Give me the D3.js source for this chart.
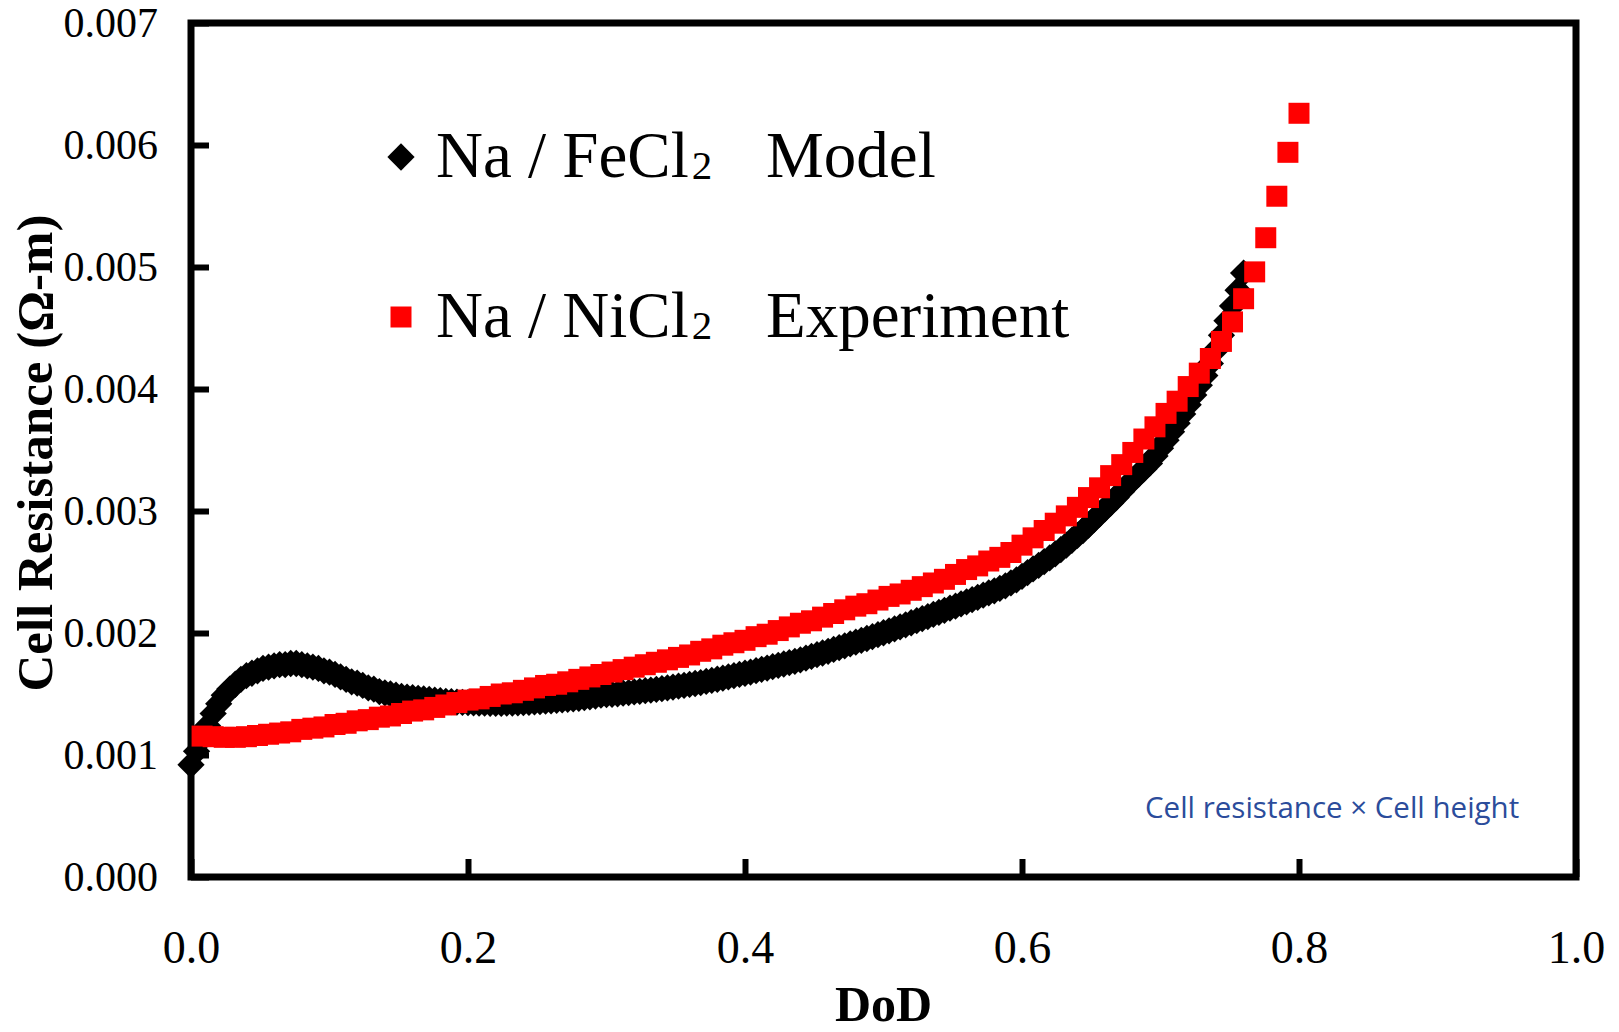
<!DOCTYPE html>
<html>
<head>
<meta charset="utf-8">
<script src="https://cdn.jsdelivr.net/npm/d3@7"></script>
<style>
	body { margin: 0; background: #fff; }
	svg { display: block; }
</style>
</head>
<body>
<div id="chart"></div>
<script>
// Model curve (Na / FeCl2): DoD and cell resistance (ohm-m)
const modelDoD = [
	0, .004, .008, .012, .016, .02, .024, .028, .032, .036, .04, .044, .048, .052, .056, .06, .064, .068, .072, .076,
	.08, .084, .088, .092, .096, .1, .104, .108, .112, .116, .12, .124, .128, .132, .136, .14, .144, .148, .152, .156,
	.16, .164, .168, .172, .176, .18, .184, .188, .192, .196, .2, .204, .208, .212, .216, .22, .224, .228, .232, .236,
	.24, .244, .248, .252, .256, .26, .264, .268, .272, .276, .28, .284, .288, .292, .296, .3, .304, .308, .312, .316,
	.32, .324, .328, .332, .336, .34, .344, .348, .352, .356, .36, .364, .368, .372, .376, .38, .384, .388, .392, .396,
	.4, .404, .408, .412, .416, .42, .424, .428, .432, .436, .44, .444, .448, .452, .456, .46, .464, .468, .472, .476,
	.48, .484, .488, .492, .496, .5, .504, .508, .512, .516, .52, .524, .528, .532, .536, .54, .544, .548, .552, .556,
	.56, .564, .568, .572, .576, .58, .584, .588, .592, .596, .6, .604, .608, .612, .616, .62, .624, .628, .632, .636,
	.64, .644, .648, .652, .656, .66, .664, .668, .672, .676, .68, .684, .688, .692, .696, .7, .704, .708, .712, .716,
	.72, .724, .728, .732, .736, .74, .744, .748, .752, .756, .76
];
const modelRes = [
	0.00092, 0.00103, 0.00113, 0.00124, 0.00134, 0.00142, 0.00149, 0.00154, 0.00158, 0.00162,
	0.00165, 0.00167, 0.00169, 0.00171, 0.00172, 0.00173, 0.00174, 0.00174, 0.00175, 0.00175,
	0.00174, 0.00173, 0.00172, 0.00171, 0.00169, 0.00168, 0.00166, 0.00164, 0.00162, 0.00160,
	0.00159, 0.00157, 0.00155, 0.00154, 0.00152, 0.00151, 0.00150, 0.00149, 0.00148, 0.001475,
	0.00147, 0.001465, 0.00146, 0.001455, 0.00145, 0.001445, 0.00144, 0.001437, 0.001434, 0.001432,
	0.00143, 0.001428, 0.001426, 0.001425, 0.001424, 0.001424, 0.001424, 0.001425, 0.001426, 0.001428,
	0.00143, 0.001432, 0.001435, 0.001438, 0.001441, 0.001444, 0.001448, 0.001452, 0.001456, 0.00146,
	0.001465, 0.00147, 0.001476, 0.001483, 0.00149, 0.001494, 0.001498, 0.001502, 0.001507, 0.001512,
	0.001517, 0.001522, 0.001527, 0.001532, 0.001538, 0.001544, 0.00155, 0.001557, 0.001564, 0.001571,
	0.001578, 0.001586, 0.001594, 0.001603, 0.001612, 0.001621, 0.00163, 0.00164, 0.00165, 0.00166,
	0.00167, 0.00168, 0.001691, 0.001702, 0.001713, 0.001724, 0.001735, 0.001746, 0.001757, 0.001768,
	0.00178, 0.001794, 0.001808, 0.001822, 0.001836, 0.00185, 0.001865, 0.00188, 0.001895, 0.00191,
	0.001925, 0.00194, 0.001955, 0.00197, 0.001986, 0.002002, 0.002018, 0.002034, 0.00205, 0.002067,
	0.002084, 0.002101, 0.002118, 0.002135, 0.002152, 0.002169, 0.002186, 0.002203, 0.00222, 0.002238,
	0.002256, 0.002274, 0.002292, 0.00231, 0.002328, 0.002346, 0.002365, 0.002387, 0.00241, 0.002435,
	0.002465, 0.002495, 0.002525, 0.002555, 0.002585, 0.002615, 0.002648, 0.002683, 0.00272, 0.00276,
	0.0028, 0.00284, 0.002885, 0.00293, 0.002975, 0.00302, 0.003065, 0.00311, 0.00316, 0.00321,
	0.003255, 0.0033, 0.003345, 0.00339, 0.00345, 0.003515, 0.00358, 0.00365, 0.00372, 0.003795,
	0.00387, 0.00395, 0.00403, 0.00411, 0.00421, 0.00432, 0.00444, 0.00456, 0.00468, 0.00481,
	0.00495
];

// Experiment (Na / NiCl2)
const expDoD = [
	.008, .016, .024, .032, .04, .048, .056, .064, .072, .08, .088, .096, .104, .112, .12, .128, .136, .144, .152, .16,
	.168, .176, .184, .192, .2, .208, .216, .224, .232, .24, .248, .256, .264, .272, .28, .288, .296, .304, .312, .32,
	.328, .336, .344, .352, .36, .368, .376, .384, .392, .4, .408, .416, .424, .432, .44, .448, .456, .464, .472, .48,
	.488, .496, .504, .512, .52, .528, .536, .544, .552, .56, .568, .576, .584, .592, .6, .608, .616, .624, .632, .64,
	.648, .656, .664, .672, .68, .688, .696, .704, .712, .72, .728, .736, .744, .752, .76, .768, .776, .784, .792, .8
];
const expRes = [
	0.001155, 0.00115, 0.001145, 0.001145, 0.00115, 0.00116, 0.00117, 0.00118, 0.00119, 0.00121,
	0.00122, 0.00123, 0.00125, 0.00126, 0.00128, 0.00129, 0.00131, 0.00132, 0.00134, 0.00136,
	0.00137, 0.00139, 0.00141, 0.00143, 0.00145, 0.00146, 0.00148, 0.0015, 0.00151, 0.00153,
	0.00155, 0.00157, 0.00158, 0.0016, 0.00162, 0.00164, 0.00166, 0.00168, 0.0017, 0.00172,
	0.00174, 0.00176, 0.00178, 0.0018, 0.00182, 0.00185, 0.00187, 0.0019, 0.00192, 0.00194,
	0.00197, 0.00199, 0.00202, 0.00205, 0.00208, 0.0021, 0.00213, 0.00216, 0.00219, 0.00222,
	0.00224, 0.00227, 0.0023, 0.00232, 0.00235, 0.00238, 0.00241, 0.00244, 0.00248, 0.00252,
	0.00255, 0.00259, 0.00262, 0.00266, 0.00272, 0.00278, 0.00284, 0.0029, 0.00296, 0.00303,
	0.00311, 0.00319, 0.00329, 0.00338, 0.00348, 0.00359, 0.00369, 0.0038, 0.0039, 0.00402,
	0.00413, 0.00425, 0.00439, 0.00455, 0.00474, 0.00496, 0.00524, 0.00558, 0.00594, 0.00626
];

const xTicks = [0, 0.2, 0.4, 0.6, 0.8, 1.0];
const yTicks = [0, 0.001, 0.002, 0.003, 0.004, 0.005, 0.006, 0.007];

const width = 1619, height = 1032;
const plot = {left: 191, right: 1576, top: 23, bottom: 877};
const serif = "'Liberation Serif', 'Times New Roman', serif";

let svg = d3.select("#chart").append("svg")
	.attr("width", width).attr("height", height);

let scaleX = d3.scaleLinear([0, 1], [plot.left, plot.right]),
	scaleY = d3.scaleLinear([0, 0.007], [plot.bottom, plot.top]);

// Frame
svg.append("rect")
	.attr("x", plot.left).attr("y", plot.top)
	.attr("width", plot.right - plot.left).attr("height", plot.bottom - plot.top)
	.attr("fill", "none").attr("stroke", "#000").attr("stroke-width", 7);

// Axes (ticks point inwards)
let axisX = svg.append("g")
	.attr("transform", `translate(0, ${plot.bottom})`)
	.call(d3.axisBottom(scaleX).tickValues(xTicks).tickFormat(d3.format(".1f"))
		.tickSize(-18).tickPadding(53));
let axisY = svg.append("g")
	.attr("transform", `translate(${plot.left}, 0)`)
	.call(d3.axisLeft(scaleY).tickValues(yTicks).tickFormat(d3.format(".3f"))
		.tickSize(-18).tickPadding(33));

[axisX, axisY].forEach(ax => {
	ax.select(".domain").remove();
	ax.attr("font-family", serif);
	ax.selectAll(".tick line").attr("stroke", "#000").attr("stroke-width", 6);
	ax.selectAll(".tick text").attr("fill", "#000");
});
axisX.attr("font-size", 46);
axisY.attr("font-size", 42);

// Markers
let diamond = d3.symbol().type(d3.symbolSquare).size(372),
	square  = d3.symbol().type(d3.symbolSquare).size(441);

svg.append("g").selectAll("path")
	.data(modelDoD.map((d, i) => [d, modelRes[i]]))
	.join("path")
	.attr("d", diamond)
	.attr("transform", d => `translate(${scaleX(d[0])}, ${scaleY(d[1])}) rotate(45)`)
	.attr("fill", "#000");

svg.append("g").selectAll("path")
	.data(expDoD.map((d, i) => [d, expRes[i]]))
	.join("path")
	.attr("d", square)
	.attr("transform", d => `translate(${scaleX(d[0])}, ${scaleY(d[1])})`)
	.attr("fill", "#ff0000");

// Legend
let legend = svg.append("g").attr("font-family", serif).attr("font-size", 65).attr("fill", "#000");
let rows = [
	{sym: diamond, rot: 45, color: "#000", y: 177, left: "Na / FeCl", right: "Model"},
	{sym: square, rot: 0, color: "#ff0000", y: 337, left: "Na / NiCl", right: "Experiment"}
];
rows.forEach(r => {
	legend.append("path").attr("d", r.sym)
		.attr("transform", `translate(401, ${r.y - 20}) rotate(${r.rot})`)
		.attr("fill", r.color);
	let t = legend.append("text").attr("x", 436).attr("y", r.y).text(r.left);
	t.append("tspan").attr("font-size", 41).attr("dx", 3).attr("dy", 2).text("2");
	legend.append("text").attr("x", 766).attr("y", r.y).text(r.right);
});

// Note
svg.append("text")
	.attr("x", 1145).attr("y", 818)
	.attr("font-family", "'Open Sans', 'Noto Sans', sans-serif").attr("font-size", 29.5)
	.attr("fill", "#2b4c9b")
	.text("Cell resistance \u00d7 Cell height");

// Axis titles
svg.append("text")
	.attr("x", (plot.left + plot.right) / 2).attr("y", 1021)
	.attr("text-anchor", "middle")
	.attr("font-family", serif).attr("font-weight", "bold").attr("font-size", 50)
	.text("DoD");

svg.append("text")
	.attr("transform", `translate(52, ${(plot.top + plot.bottom) / 2 + 3})rotate(-90)`)
	.attr("text-anchor", "middle")
	.attr("font-family", serif).attr("font-weight", "bold").attr("font-size", 51)
	.text("Cell Resistance (\u03a9-m)");
</script>
</body>
</html>
